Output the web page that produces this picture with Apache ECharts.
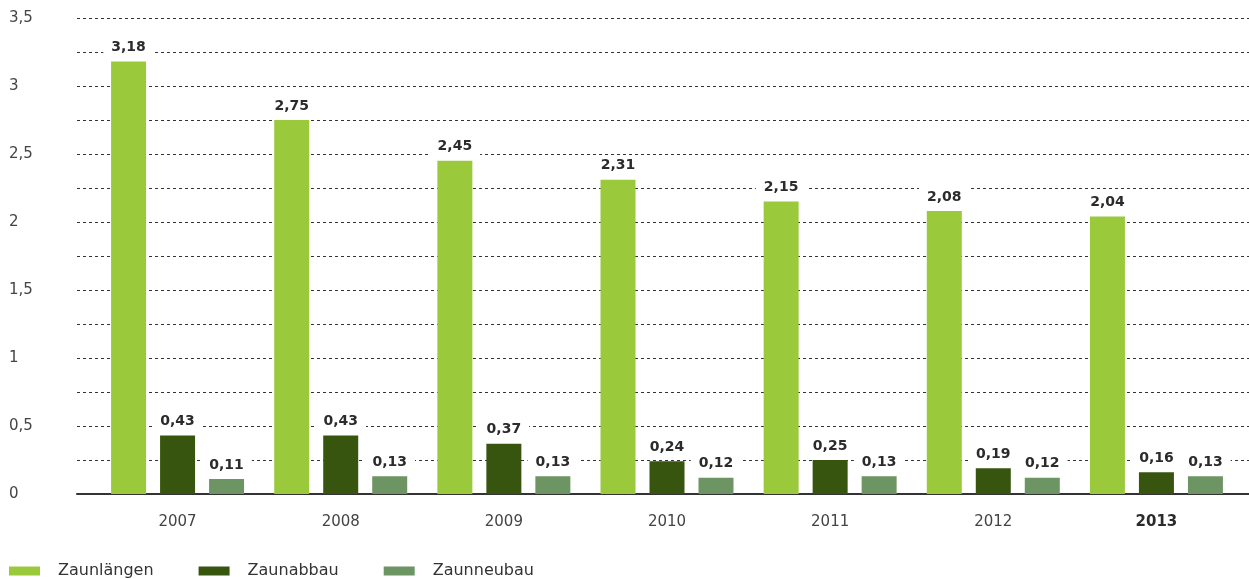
<!DOCTYPE html>
<html>
<head>
<meta charset="utf-8">
<script src="https://cdn.jsdelivr.net/npm/echarts@6/dist/echarts.min.js"></script>
<style>
  html, body { margin: 0; padding: 0; background: #fff; }
  #chart { width: 1249px; height: 579px; }
</style>
</head>
<body>
<div id="chart"></div>
<script>
// Fence statistics per year (values in km)
const years = ['2007', '2008', '2009', '2010', '2011', '2012', '2013'];
const zaunlaengen = [3.18, 2.75, 2.45, 2.31, 2.15, 2.08, 2.04];
const zaunabbau = [0.43, 0.43, 0.37, 0.24, 0.25, 0.19, 0.16];
const zaunneubau = [0.11, 0.13, 0.13, 0.12, 0.13, 0.12, 0.13];
const seriesNames = ['Zaunlängen', 'Zaunabbau', 'Zaunneubau'];
const colors = ['#9aca3c', '#37550f', '#6d9563'];

const FONT = 'DejaVu Sans';
const fmt = v => String(v).replace('.', ',');

const chart = echarts.init(document.getElementById('chart'), null, { renderer: 'canvas' });

const valueLabel = {
  show: true,
  position: 'top',
  distance: 5,
  formatter: p => fmt(p.value.toFixed(2)),
  fontFamily: FONT,
  fontSize: 14,
  fontWeight: 'bold',
  color: '#2b2b2b',
  backgroundColor: '#ffffff',
  padding: [2, 8]
};

function barSeries(i, data) {
  return {
    name: seriesNames[i],
    type: 'bar',
    xAxisIndex: 1,
    yAxisIndex: 1,
    data: data,
    barWidth: 35,
    barGap: '40%',
    itemStyle: { color: colors[i] },
    label: valueLabel
  };
}

chart.setOption({
  animation: false,
  backgroundColor: '#ffffff',
  color: colors,
  grid: [
    { left: 77, right: 0, top: 18, bottom: 85 },
    { left: 96, right: 11, top: 18, bottom: 85 }
  ],
  legend: {
    data: seriesNames,
    left: 9,
    top: 561,
    padding: 0,
    itemWidth: 31,
    itemHeight: 9,
    itemGap: 45,
    icon: 'rect',
    textStyle: {
      fontFamily: FONT,
      fontSize: 16,
      color: '#333',
      lineHeight: 20,
      padding: [0, 0, 0, 13]
    }
  },
  xAxis: [
    {
      gridIndex: 0,
      type: 'category',
      data: [''],
      axisLine: { show: true, lineStyle: { color: '#333', width: 2 } },
      axisTick: { show: false },
      axisLabel: { show: false },
      splitLine: { show: false }
    },
    {
      gridIndex: 1,
      type: 'category',
      data: years,
      axisLine: { show: false },
      axisTick: { show: false },
      splitLine: { show: false },
      axisLabel: {
        margin: 21,
        fontFamily: FONT,
        fontSize: 15,
        color: '#444',
        formatter: v => v === '2013' ? '{b|' + v + '}' : v,
        rich: {
          b: { fontFamily: FONT, fontSize: 15, fontWeight: 'bold', color: '#2b2b2b' }
        }
      }
    }
  ],
  yAxis: [
    {
      gridIndex: 0,
      type: 'value',
      min: 0,
      max: 3.5,
      interval: 0.25,
      axisLine: { show: false },
      axisTick: { show: false },
      axisLabel: {
        align: 'left',
        margin: 68,
        fontFamily: FONT,
        fontSize: 15,
        color: '#444',
        formatter: v => (Math.round(v * 100) % 50 === 0) ? fmt(v) : ''
      },
      splitLine: {
        show: true,
        lineStyle: { color: '#333', type: [3, 3], width: 1 }
      }
    },
    {
      gridIndex: 1,
      type: 'value',
      min: 0,
      max: 3.5,
      interval: 0.25,
      show: false,
      splitLine: { show: false }
    }
  ],
  series: [
    barSeries(0, zaunlaengen),
    barSeries(1, zaunabbau),
    barSeries(2, zaunneubau)
  ]
});
</script>
</body>
</html>
